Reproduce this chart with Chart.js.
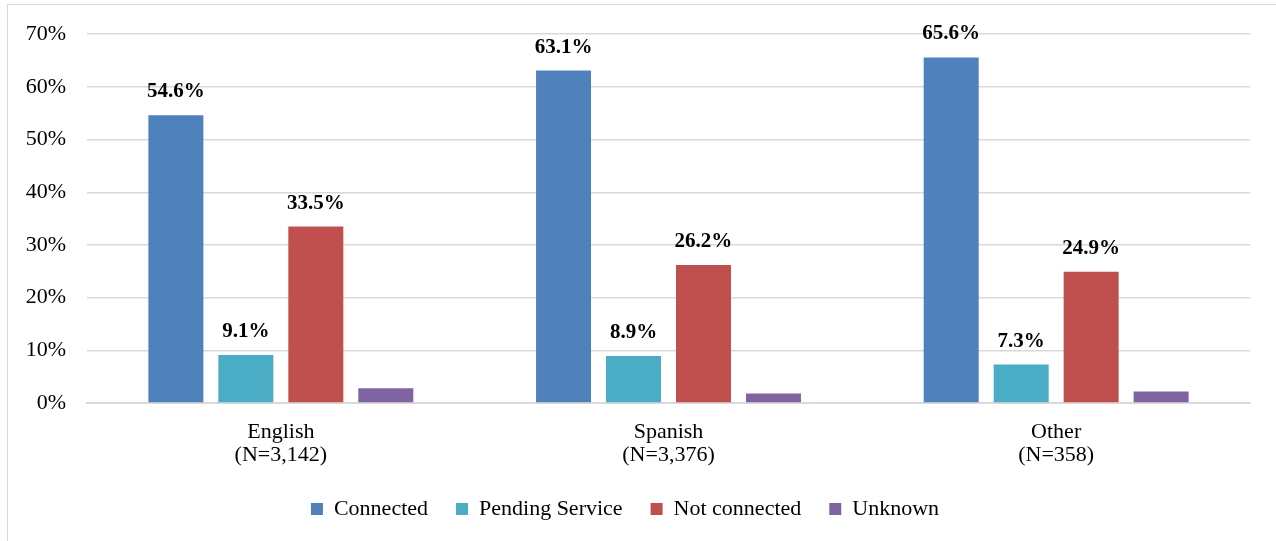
<!DOCTYPE html>
<html>
<head>
<meta charset="utf-8">
<script src="https://cdn.jsdelivr.net/npm/chart.js@4/dist/chart.umd.min.js"></script>
<style>
    html, body { margin: 0; padding: 0; background: #fff; overflow: hidden; }
    .frame {
        position: absolute; left: 7px; top: 4px; width: 1300px; height: 600px;
        border: 1px solid #d9d9d9; box-sizing: border-box;
    }
    .wrap { position: absolute; left: 0; top: 0; width: 1276px; height: 541px; }
</style>
</head>
<body>
<div class="frame"></div>
<div class="wrap"><canvas id="langChart"></canvas></div>
<script>
// ===========================
// Data
// ===========================
const categories = [['English', '(N=3,142)'], ['Spanish', '(N=3,376)'], ['Other', '(N=358)']];
const seriesNames = ['Connected', 'Pending Service', 'Not connected', 'Unknown'];
const connected = [54.6, 63.1, 65.6];
const pending = [9.1, 8.9, 7.3];
const notConnected = [33.5, 26.2, 24.9];
const unknown = [2.8, 1.8, 2.2];
const yTicks = [0, 10, 20, 30, 40, 50, 60, 70];

const seriesColors = ['#4F81BD', '#4BACC6', '#C0504D', '#8064A2'];
const showLabels = [true, true, true, false];
const FONT = "'Liberation Serif', 'DejaVu Serif', serif";

// Value labels above bars
const barLabels = {
    id: 'barLabels',
    afterDatasetsDraw(chart) {
        const ctx = chart.ctx;
        ctx.save();
        ctx.font = 'bold 21px ' + FONT;
        ctx.fillStyle = '#000';
        ctx.textAlign = 'center';
        ctx.textBaseline = 'alphabetic';
        chart.data.datasets.forEach((ds, i) => {
            if (!showLabels[i]) return;
            chart.getDatasetMeta(i).data.forEach((bar, j) => {
                ctx.fillText(ds.data[j].toFixed(1) + '%', bar.x, bar.y - 18);
            });
        });
        ctx.restore();
    }
};

const seriesData = [connected, pending, notConnected, unknown];

new Chart(document.getElementById('langChart'), {
    type: 'bar',
    data: {
        labels: categories,
        datasets: seriesNames.map((name, i) => ({
            label: name,
            data: seriesData[i],
            backgroundColor: seriesColors[i],
            borderWidth: 0,
            categoryPercentage: 0.722,
            barPercentage: 0.786
        }))
    },
    options: {
        responsive: true,
        maintainAspectRatio: false,
        animation: false,
        layout: {
            padding: { top: 23, right: 26, bottom: 11, left: 0 }
        },
        plugins: {
            legend: {
                position: 'bottom',
                labels: {
                    color: '#000',
                    boxWidth: 12,
                    boxHeight: 12,
                    padding: 28,
                    font: { family: FONT, size: 22 }
                }
            },
            tooltip: { enabled: false }
        },
        scales: {
            x: {
                grid: { display: false, drawTicks: false },
                border: { color: '#d9d9d9', width: 2 },
                ticks: {
                    color: '#000',
                    padding: 18,
                    font: { family: FONT, size: 22, lineHeight: 1.05 }
                },
                afterFit: s => { s.height = 67; }
            },
            y: {
                min: 0,
                max: 70,
                afterBuildTicks: s => { s.ticks = yTicks.map(v => ({ value: v })); },
                grid: { color: '#d9d9d9', lineWidth: 1.5, drawTicks: false },
                border: { display: false },
                ticks: {
                    color: '#000',
                    padding: 21,
                    font: { family: FONT, size: 22 },
                    callback: v => v + '%'
                },
                afterFit: s => { s.width = 87; }
            }
        }
    },
    plugins: [barLabels]
});
</script>
</body>
</html>
